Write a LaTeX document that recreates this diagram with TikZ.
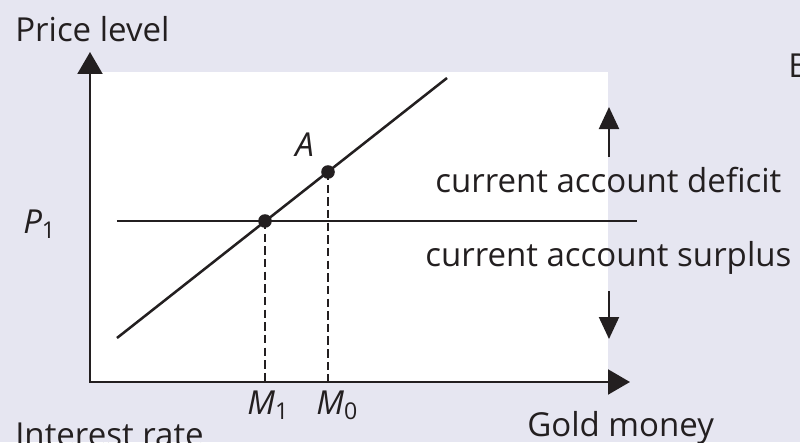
\documentclass[tikz,border=0pt]{standalone}
\usepackage{fontspec}
\setmainfont{Open Sans}
\usetikzlibrary{arrows.meta, positioning}
\definecolor{panelbg}{RGB}{230,230,241}
\definecolor{inkdark}{RGB}{35,31,32}

\begin{document}
\begin{tikzpicture}[>={Triangle[width=0.62cm,length=0.55cm]}, every node/.style={inner sep=0pt, text=inkdark, font=\fontsize{23.5}{28}\selectfont}]
    % Frame and panel
    \useasboundingbox (-2.25,-1.5) rectangle (17.75,9.55);
    \clip (-2.25,-1.5) rectangle (17.75,9.55);
    \fill[panelbg] (-2.25,-1.5) rectangle (17.75,9.55);
    \fill[white] (0,0) rectangle (12.95,7.75);

    % Axes
    \coordinate (origin) at (0,0);
    \coordinate (ytip) at (0,8.25);
    \coordinate (xtip) at (13.5,0);
    \draw[inkdark, line width=2pt, <->] (ytip) -- (origin) -- (xtip);
    \node[anchor=base west] (pricelab) at (-1.875,8.5) {Price level};
    \node[anchor=base west] (goldlab) at (10.925,-1.35) {Gold money};
    \node[anchor=base west] (ratelab) at (-1.875,-1.6) {Interest rate};

    % Price level P1
    \coordinate (pleft) at (0.675,4.025);
    \coordinate (pright) at (13.675,4.025);
    \draw[inkdark, line width=1.2pt] (pleft) -- (pright);
    \node[anchor=base west] (plab) at (-1.675,3.725) {\textit{P}\textsubscript{1}};

    % Upward sloping line
    \coordinate (lineA) at (0.675,1.1);
    \coordinate (lineB) at (8.925,7.6);
    \draw[inkdark, line width=1.8pt] (lineA) -- (lineB);

    % Points and dashed drops
    \fill[inkdark] (4.375,4.025) circle (0.17) coordinate (pm1);
    \fill[inkdark] (5.95,5.25) circle (0.17) coordinate (pm0);
    \coordinate (bm1) at (4.375,0);
    \coordinate (bm0) at (5.95,0);
    \draw[inkdark, line width=1.6pt, dash pattern=on 6pt off 3pt] (pm1) -- (bm1);
    \draw[inkdark, line width=1.6pt, dash pattern=on 6pt off 3pt] (pm0) -- (bm0);
    \node[anchor=base west] (alab) at (5.125,5.625) {\textit{A}};
    \node[anchor=base west] (m1lab) at (3.925,-0.8) {\textit{M}\textsubscript{1}};
    \node[anchor=base west] (m0lab) at (5.65,-0.8) {\textit{M}\textsubscript{0}};

    % Current account labels
    \node[anchor=base west] (deficit) at (8.625,4.75) {current account deficit};
    \node[anchor=base west] (surplus) at (8.375,2.9) {current account surplus};
    \coordinate (upfrom) at (12.975,5.625);
    \coordinate (upto) at (12.975,6.875);
    \coordinate (downfrom) at (12.975,2.275);
    \coordinate (downto) at (12.975,1.075);
    \draw[inkdark, line width=1.5pt, ->, >={Triangle[width=0.5cm,length=0.55cm]}] (upfrom) -- (upto);
    \draw[inkdark, line width=1.5pt, ->, >={Triangle[width=0.5cm,length=0.55cm]}] (downfrom) -- (downto);

    \node[anchor=base west] (blab) at (17.45,7.6) {B};
\end{tikzpicture}
\end{document}
